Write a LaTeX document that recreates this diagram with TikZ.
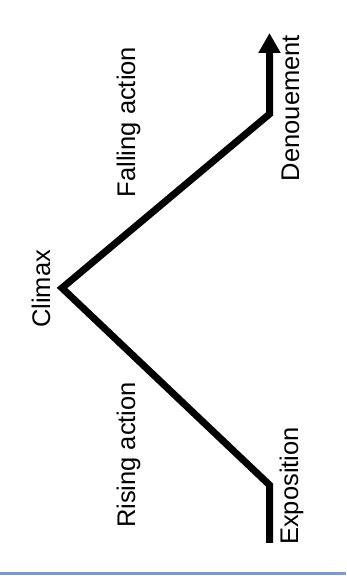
\documentclass[tikz,border=0pt]{standalone}
\usepackage{fontspec}
\setmainfont{Liberation Sans}
\usetikzlibrary{arrows.meta}
\definecolor{rulerblue}{RGB}{125,152,212}
\tikzset{
  plotline/.style={line width=7pt, line join=miter, line cap=butt},
  lbl/.style={rotate=90, anchor=base, inner sep=0pt, font=\fontsize{25.5pt}{30pt}\selectfont}
}
\begin{document}
\begin{tikzpicture}[x=1pt,y=1pt]
\useasboundingbox (0,0) rectangle (346,576);
\fill[white] (0,0) rectangle (346,576);
\coordinate (start) at (269.5,33);
\coordinate (bendA) at (269.5,91);
\coordinate (peak) at (62,288);
\coordinate (bendB) at (269.5,462);
\coordinate (tip) at (269.5,543);
\draw[plotline, -{Triangle[width=21pt,length=20pt]}] (start) -- (bendA) -- (peak) -- (bendB) -- (tip);
\node[lbl] (expo) at (298,90) {Exposition};
\node[lbl] (rise) at (135,121) {Rising action};
\node[lbl] (clim) at (50,287) {Climax};
\node[lbl] (fall) at (135,454) {Falling action};
\node[lbl] (deno) at (299,468) {Denouement};
\coordinate (ruleL) at (0,2.5);
\coordinate (ruleR) at (346,2.5);
\draw[rulerblue, line width=3pt] (ruleL) -- (ruleR);
\end{tikzpicture}
\end{document}
